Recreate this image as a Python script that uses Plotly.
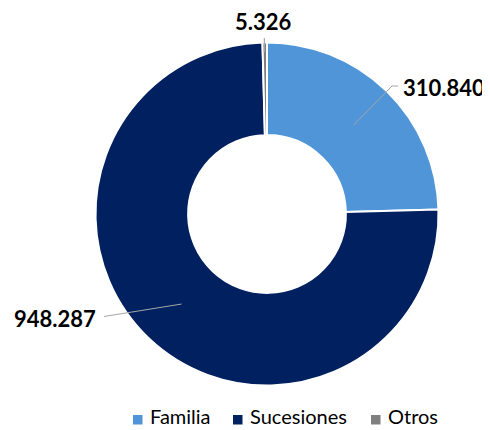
import math
import plotly.graph_objects as go

# datos del gráfico
categorias = ["Familia", "Sucesiones", "Otros"]
valores = [310840, 948287, 5326]
colores = ["#4F95D8", "#002060", "#7F7F7F"]

# la página tiene 8px de margen en el body: la figura empieza en (8, 8)
OFF = 8
W, H = 490 - OFF, 430 - OFF
CX, CY, R = 267, 214, 170       # centro y radio del anillo, en px de ventana
HOLE = 0.46


def fmt(v):
    return f"{v:,}".replace(",", ".")


def to_paper(px, py):
    return (px - OFF) / W, 1 - (py - OFF) / H


def ring_point(frac, r):
    # angulo en sentido horario desde las 12
    a = 2 * math.pi * frac
    return CX + r * math.sin(a), CY - r * math.cos(a)


def line_path(pts):
    return "M " + " L ".join("{},{}".format(*to_paper(*p)) for p in pts)


Rd = R + 1.5
x_lo, y_hi = to_paper(CX - Rd, CY - Rd)
x_hi, y_lo = to_paper(CX + Rd, CY + Rd)

fig = go.Figure()
fig.add_trace(go.Pie(
    labels=categorias,
    values=valores,
    hole=HOLE,
    sort=False,
    direction="clockwise",
    rotation=0,
    marker=dict(colors=colores, line=dict(color="#ffffff", width=2)),
    textinfo="none",
    hoverinfo="label+value",
    domain=dict(x=[x_lo, x_hi], y=[y_lo, y_hi]),
    showlegend=False,
))

total = sum(valores)
mids, acc = [], 0
for v in valores:
    mids.append((acc + v / 2) / total)
    acc += v

r_mid = R * (1 + HOLE) / 2
gris = "#A6A6A6"
label_font = dict(family="Lato", size=22, color="#000000")
shapes, annotations = [], []

# Familia: linea quebrada hacia la derecha
p0 = ring_point(mids[0], r_mid)
shapes.append(dict(type="path", path=line_path([p0, (392, 86), (398, 86)]),
                   line=dict(color=gris, width=1)))
annotations.append(dict(x=to_paper(401, 87)[0], y=to_paper(401, 87)[1], xanchor="left",
                        text=f"<b>{fmt(valores[0])}</b>"))

# Sucesiones: linea hacia la izquierda
p0 = ring_point(mids[1], r_mid)
shapes.append(dict(type="path", path=line_path([p0, (104, 316.5)]),
                   line=dict(color=gris, width=1)))
annotations.append(dict(x=to_paper(98, 318)[0], y=to_paper(98, 318)[1], xanchor="right",
                        text=f"<b>{fmt(valores[1])}</b>"))

# Otros: linea vertical corta arriba
p0 = ring_point(mids[2], R - 8)
shapes.append(dict(type="path", path=line_path([(p0[0] - 0.5, p0[1]), (p0[0] - 0.5, 38)]),
                   line=dict(color=gris, width=1.2)))
annotations.append(dict(x=to_paper(263, 21)[0], y=to_paper(263, 21)[1], xanchor="center",
                        text=f"<b>{fmt(valores[2])}</b>"))

for a in annotations:
    a.update(xref="paper", yref="paper", yanchor="middle", showarrow=False, font=label_font)

# leyenda dibujada a mano (cuadro + texto)
leg_x = [133, 233, 371]
for cat, col, lx in zip(categorias, colores, leg_x):
    x0, y0 = to_paper(lx, 415)
    x1, y1 = to_paper(lx + 9.5, 424.5)
    shapes.append(dict(type="rect", x0=x0, y0=y1, x1=x1, y1=y0,
                       fillcolor=col, line=dict(width=0)))
    annotations.append(dict(x=to_paper(lx + 15, 0)[0], y=0, xref="paper", yref="paper",
                            xanchor="left", yanchor="bottom",
                            text=cat, showarrow=False,
                            font=dict(family="Lato", size=20, color="#000000")))

for s in shapes:
    s.update(xref="paper", yref="paper")

fig.update_layout(
    width=W, height=H,
    margin=dict(l=0, r=0, t=0, b=0),
    paper_bgcolor="#ffffff",
    plot_bgcolor="#ffffff",
    shapes=shapes,
    annotations=annotations,
    showlegend=False,
)

fig.write_html("out.html")
